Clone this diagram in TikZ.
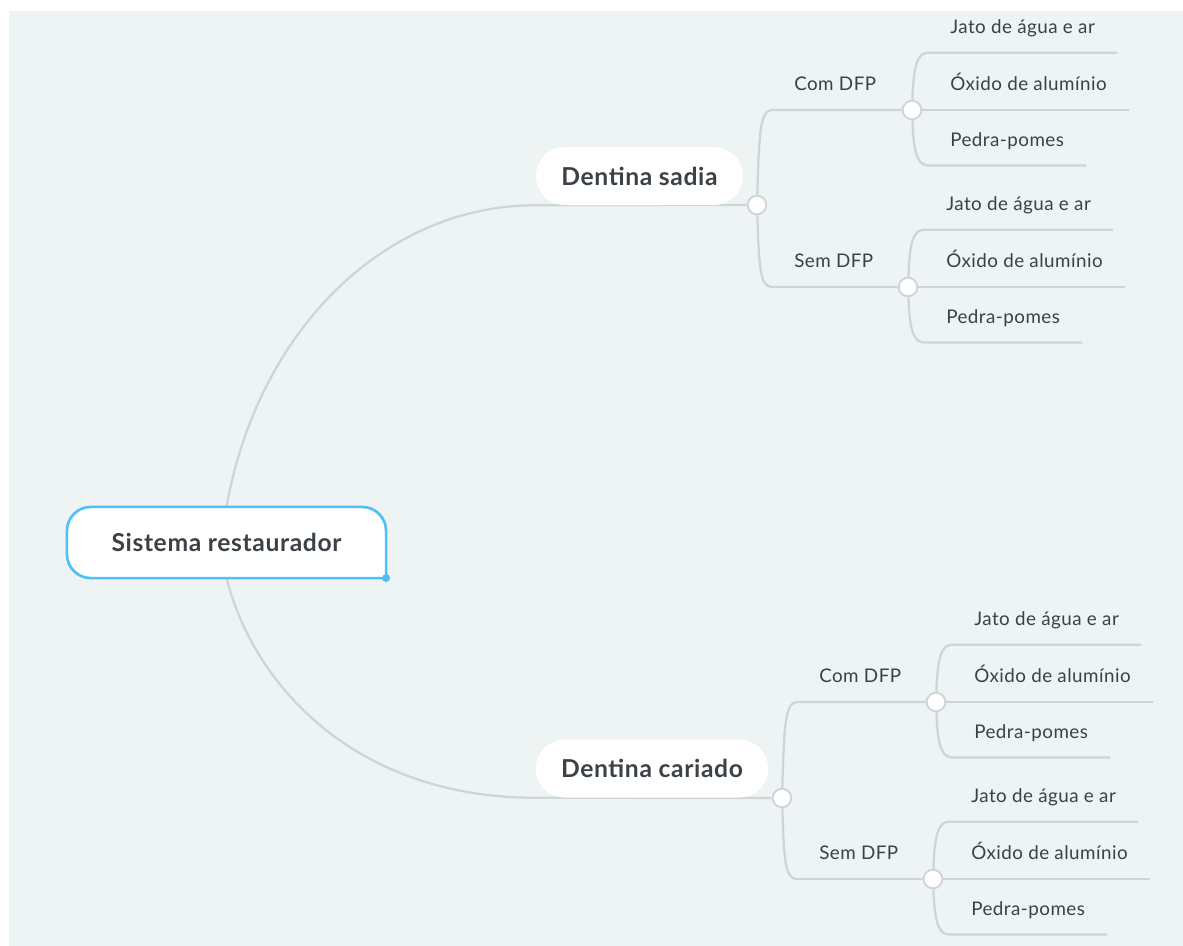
\documentclass[tikz,border=0pt]{standalone}
\usepackage{fontspec}
\setmainfont{Lato}[LetterSpace=2.5]
\usetikzlibrary{backgrounds}
\definecolor{panel}{HTML}{EEF4F4}
\definecolor{twig}{HTML}{CFD4D8}
\definecolor{ink}{HTML}{3A4147}
\definecolor{sky}{HTML}{4FC0F6}
\begin{document}
\begin{tikzpicture}[x=0.75pt,y=-0.75pt,line join=round,line cap=round,
		branch/.style={twig,line width=1.7pt},
		knot/.style={circle,draw=twig,line width=1.4pt,fill=white,minimum size=14pt,inner sep=0pt},
		pill/.style={fill=white,rounded corners=21.5pt,minimum height=43.5pt,font=\fontsize{18.5}{22}\selectfont\bfseries,text=ink},
		root/.style={minimum width=239pt,minimum height=53pt,font=\fontsize{18.5}{22}\selectfont\bfseries,text=ink},
		rootline/.style={draw=sky,fill=white,line width=2pt},
		leaf/.style={anchor=south west,inner xsep=16.5pt,inner ysep=14.25pt,text depth=0pt,font=\fontsize{14.1}{16}\selectfont,text=ink}]
	\def\trio#1{%
		\node[leaf] (#1a) at ([xshift=12pt,yshift=43pt]#1.center) {Jato de água e ar};
		\node[leaf] (#1b) at ([xshift=12pt]#1.center) {Óxido de alumínio};
		\node[leaf] (#1c) at ([xshift=12pt,yshift=-41.6pt]#1.center) {Pedra-pomes};
		\begin{scope}[on background layer]
			\draw[branch] (#1) .. controls +(1.5,-40) and +(-12,0) .. (#1a.south west) -- (#1a.south east);
			\draw[branch] (#1) -- (#1b.south east);
			\draw[branch] (#1) .. controls +(1.5,38) and +(-12,0) .. (#1c.south west) -- (#1c.south east);
		\end{scope}}
	\useasboundingbox (0,0) rectangle (1183,946);
	\begin{scope}[on background layer]
		\fill[white] (0,0) rectangle (1183,946);
		\fill[panel] (9,11) rectangle (1183,946);
	\end{scope}
	% main topics
	\node[root] (sis) at (226.5,542.5) {Sistema restaurador};
	\node[pill,minimum width=155pt] (sadia) at (639.5,176) {Dentina sadia};
	\node[pill,minimum width=174pt] (cariado) at (652,768.5) {Dentina cariado};
	\node[knot] (ks) at (757,205) {};
	\node[knot] (kc) at (782,798) {};
	% subtopics
	\node[leaf] (scom) at (772,110) {Com DFP};
	\node[leaf] (ssem) at (772,287) {Sem DFP};
	\node[leaf] (ccom) at (797,702) {Com DFP};
	\node[leaf] (csem) at (797,879) {Sem DFP};
	\node[knot] (kscom) at (912,110) {};
	\node[knot] (kssem) at (908,287) {};
	\node[knot] (kccom) at (936,702) {};
	\node[knot] (kcsem) at (933,879) {};
	\trio{kscom}
	\trio{kssem}
	\trio{kccom}
	\trio{kcsem}
	\begin{scope}[on background layer]
		\draw[branch] (sis.north) .. controls (258,330) and (385,205) .. (sadia.south west) -- (ks);
		\draw[branch] (sis.south) .. controls (255,690) and (360,798) .. (cariado.south west) -- (kc);
		\draw[branch] (ks) .. controls +(2,-70) and +(-12,0) .. (scom.south west) -- (kscom);
		\draw[branch] (ks) .. controls +(2,62) and +(-12,0) .. (ssem.south west) -- (kssem);
		\draw[branch] (kc) .. controls +(2,-70) and +(-12,0) .. (ccom.south west) -- (kccom);
		\draw[branch] (kc) .. controls +(2,62) and +(-12,0) .. (csem.south west) -- (kcsem);
		\draw[rootline] (sis.south east) [rounded corners=18pt] -- (sis.north east) -- (sis.north west) -- (sis.south west) -- (sis.south east);
	\end{scope}
	\fill[sky] (sis.south east) circle (3pt);
\end{tikzpicture}
\end{document}
